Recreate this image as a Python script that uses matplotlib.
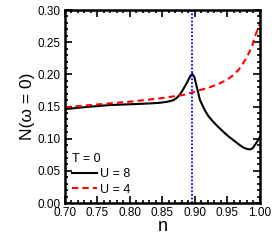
import matplotlib
matplotlib.use("Agg")
import matplotlib.pyplot as plt
from matplotlib.ticker import MultipleLocator, FormatStrFormatter

plt.rcParams['font.family'] = ['Liberation Sans', 'DejaVu Sans']

n_u8 = [0.70, 0.73, 0.769, 0.80, 0.83, 0.846, 0.858, 0.867, 0.872, 0.877, 0.882, 0.887, 0.891, 0.894, 0.896,
        0.899, 0.9026, 0.9077, 0.915, 0.921, 0.928, 0.936, 0.9436, 0.951, 0.959, 0.967, 0.974, 0.980,
        0.985, 0.989, 0.992, 0.996, 1.00]
N_u8 = [0.146, 0.149, 0.1523, 0.1535, 0.1548, 0.1558, 0.1575, 0.160, 0.1635, 0.169, 0.177, 0.186, 0.194, 0.199, 0.2005,
        0.196, 0.1809, 0.160, 0.1445, 0.1345, 0.1263, 0.118, 0.1108, 0.104, 0.0978, 0.0915, 0.0864, 0.084,
        0.0833, 0.0855, 0.090, 0.096, 0.103]

n_u4 = [0.70, 0.73, 0.769, 0.80, 0.846, 0.872, 0.882, 0.895, 0.9077, 0.923, 0.938, 0.950, 0.959, 0.967,
        0.974, 0.980, 0.985, 0.989, 0.992, 0.996, 1.00]
N_u4 = [0.1487, 0.1515, 0.1549, 0.1575, 0.1627, 0.1665, 0.168, 0.1715, 0.1756, 0.180, 0.186, 0.192, 0.199, 0.207,
        0.217, 0.227, 0.2378, 0.2475, 0.2585, 0.269, 0.279]

n_line = 0.895

fig = plt.figure(figsize=(2.76, 2.45), dpi=100)
ax = fig.add_axes([0.2355, 0.1714, 0.7065, 0.7876])

ax.plot(n_u8, N_u8, color='black', lw=1.5, label='U = 8')
ax.plot(n_u4, N_u4, color='#ff0000', lw=1.5, ls=(0, (3, 2)), label='U = 4')
ax.axvline(n_line, color='#0000ff', lw=1.3, ls=(0, (1, 1)))

ax.set_xlim(0.70, 1.00)
ax.set_ylim(0.0, 0.30)
ax.xaxis.set_major_locator(MultipleLocator(0.05))
ax.xaxis.set_minor_locator(MultipleLocator(0.01))
ax.yaxis.set_major_locator(MultipleLocator(0.05))
ax.yaxis.set_minor_locator(MultipleLocator(0.01))
ax.xaxis.set_major_formatter(FormatStrFormatter('%.2f'))
ax.yaxis.set_major_formatter(FormatStrFormatter('%.2f'))
ax.tick_params(which='both', direction='in', top=True, right=True, width=1.2, labelsize=8.5, pad=3)
ax.tick_params(which='major', length=5)
ax.tick_params(which='minor', length=2.5)
for s in ax.spines.values():
    s.set_linewidth(1.8)

ax.set_xlabel('n', fontsize=13, labelpad=-1)
ax.set_ylabel('N(ω = 0)', fontsize=12.5, labelpad=2)

leg = ax.legend(title='T = 0', loc='lower left', frameon=False, fontsize=9, title_fontsize=9,
                handlelength=2.0, handletextpad=0.2, borderaxespad=0.3, labelspacing=0.25,
                alignment='left', borderpad=0.3)

fig.savefig('out.png', dpi=100)
